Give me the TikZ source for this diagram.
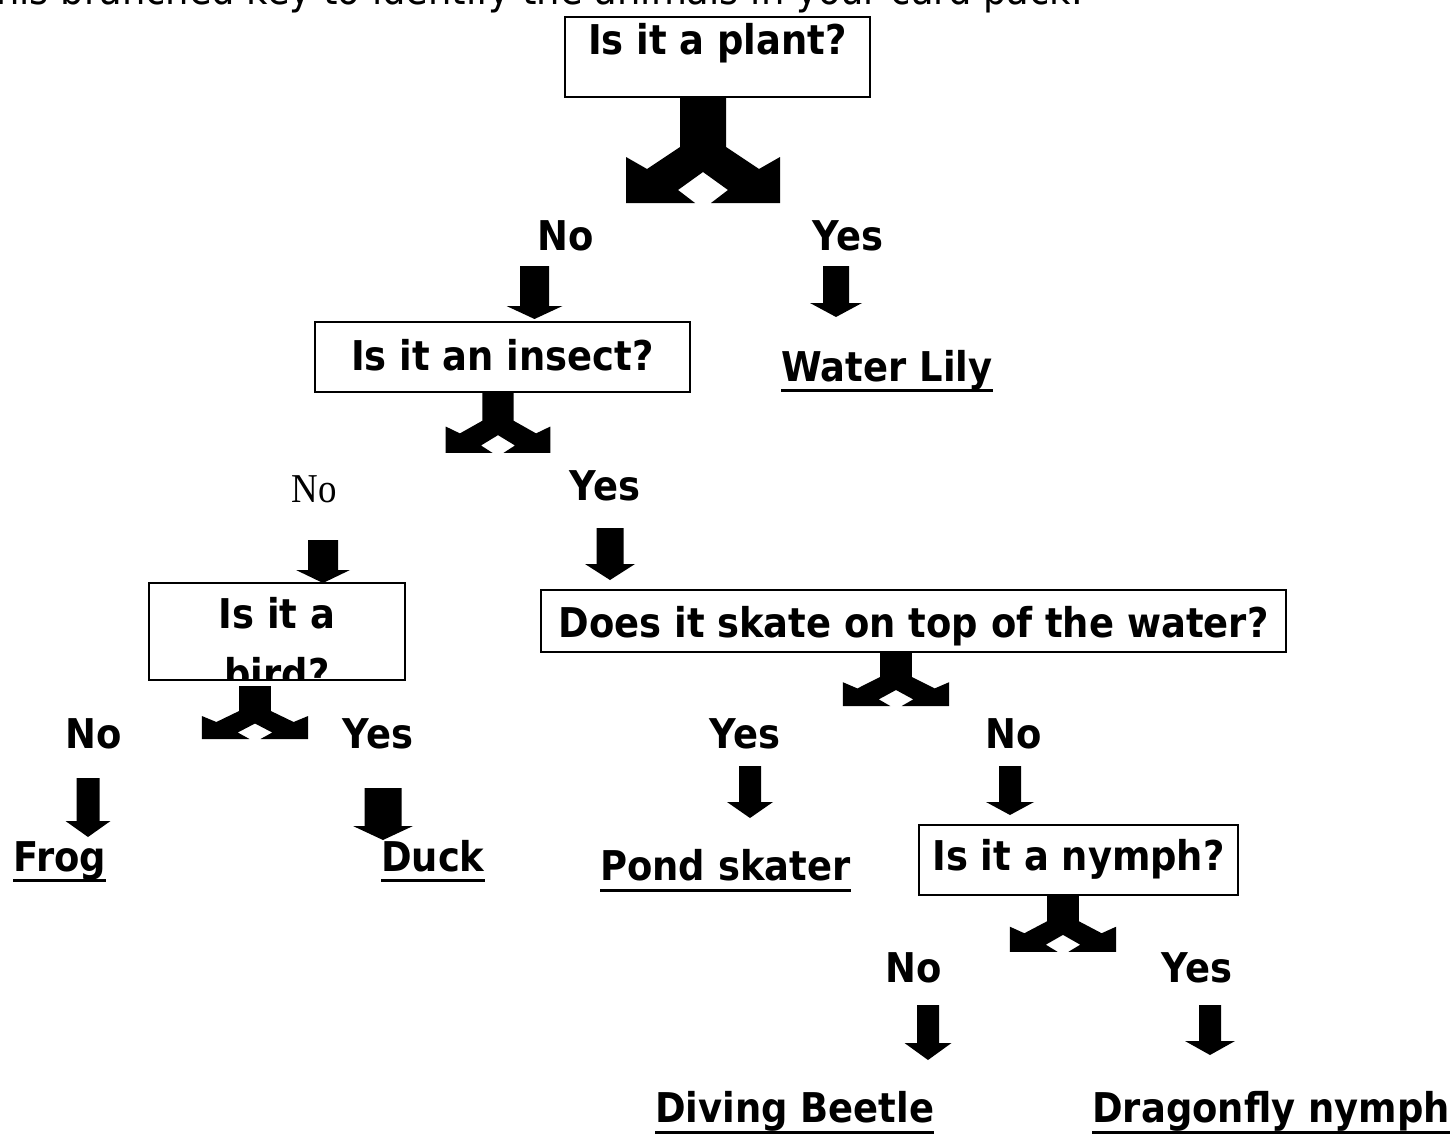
\documentclass[tikz,border=0pt]{standalone}
\usepackage{fontspec}
\newfontfamily\kfont[FakeStretch=0.9]{DejaVu Sans}
\newfontfamily\sfont[FakeStretch=0.9]{Liberation Serif}
\usetikzlibrary{calc,fit}
\begin{document}
\begin{tikzpicture}[x=1pt,y=-1pt,
  lbl/.style={font=\kfont\bfseries\fontsize{41}{46}\selectfont, inner sep=0pt, anchor=base},
  qbox/.style={lbl, draw, line width=1.6pt, fill=white, inner xsep=0pt, inner ysep=0pt},
  uline/.style={line width=3pt},
  pics/sarrow/.style n args={4}{code={
    \fill (-#1/2,0) -- (#1/2,0) -- (#1/2,#3) -- (#2/2,#3) -- (0,#4) -- (-#2/2,#3) -- (-#1/2,#3) -- cycle;}},
  pics/darrow/.style={code={
    \fill (-23,0) -- (-23,50) -- (-56,72) -- (-77,60) -- (-77,106) -- (-8,106) -- (-25,93) -- (0,75)
      -- (25,93) -- (8,106) -- (77,106) -- (77,60) -- (56,72) -- (23,50) -- (23,0) -- cycle;}}
]
\useasboundingbox[fill=white] (0,0) rectangle (1456,1137);

% clipped heading
\node[font=\kfont\fontsize{41}{46}\selectfont, inner sep=0pt, anchor=base east] (title) at (1083,5)
  {Use this branched key to identify the animals in your card pack.};

% question 1
\node[qbox, text height=38pt, text depth=42pt, minimum width=305pt] (q1) at (717.5,55) {Is it a plant?};
\pic at (703,97) {darrow};
\node[lbl] (no1) at (566,250) {No};
\node[lbl] (yes1) at (848,250) {Yes};
\pic at (534.5,266) {sarrow={29}{56}{40}{53}};
\pic at (836,266) {sarrow={26}{52}{37}{51}};
\node[lbl] (lily) at (887,381) {Water Lily};
\draw[uline] ($(lily.base west)+(0,9)$) -- ($(lily.base east)+(0,9)$);

% question 2
\node[qbox, text height=48pt, text depth=22pt, minimum width=375pt] (q2) at (502.5,370) {Is it an insect?};
\pic[xscale=0.68, yscale=0.575] at (498,392) {darrow};
\node[font=\sfont\fontsize{41}{46}\selectfont, inner sep=0pt, anchor=base] (no2) at (314,502) {No};
\node[lbl] (yes2) at (605,500) {Yes};
\pic at (323,540) {sarrow={30}{54}{30}{43}};
\pic at (610,528) {sarrow={27}{50}{36}{52}};

% question 3 (bird)
\coordinate (q3nw) at (149,583);
\coordinate (q3se) at (405,680);
\begin{scope}
  \clip (q3nw) rectangle (q3se);
  \node[lbl] (q3a) at (277,628) {Is it a};
  \node[lbl] (q3b) at (277,688) {bird?};
\end{scope}
\node[draw, line width=1.6pt, inner sep=0pt, fit=(q3nw)(q3se)] (q3) {};
\pic[xscale=0.69, yscale=0.5] at (255,686) {darrow};
\node[lbl] (no3) at (94,748) {No};
\node[lbl] (yes3) at (378,748) {Yes};
\pic at (88,778) {sarrow={23}{45}{43}{59}};
\pic at (383,788) {sarrow={37}{60}{38}{52}};
\node[lbl, anchor=base west] (frog) at (13,871) {Frog};
\draw[uline] ($(frog.base west)+(0,9)$) -- ($(frog.base east)+(0,9)$);
\node[lbl, anchor=base west] (duck) at (381,871) {Duck};
\draw[uline] ($(duck.base west)+(0,9)$) -- ($(duck.base east)+(0,9)$);

% question 4 (skate)
\node[qbox, text height=47pt, text depth=15pt, minimum width=745pt] (q4) at (913.5,637) {Does it skate on top of the water?};
\pic[xscale=0.69, yscale=0.52] at (896,651) {darrow};
\node[lbl] (yes4) at (745,748) {Yes};
\node[lbl] (no4) at (1014,748) {No};
\pic at (750,766) {sarrow={22}{46}{36}{52}};
\pic at (1010,766) {sarrow={22}{48}{36}{49}};
\node[lbl, anchor=base west] (pond) at (600,880) {Pond skater};
\draw[uline] ($(pond.base west)+(0,10)$) -- ($(pond.base east)+(0,10)$);

% question 5 (nymph)
\node[qbox, text height=45pt, text depth=25pt, minimum width=319pt] (q5) at (1078.5,870) {Is it a nymph?};
\pic[xscale=0.69, yscale=0.545] at (1063,894) {darrow};
\node[lbl] (no5) at (914,982) {No};
\node[lbl] (yes5) at (1197,982) {Yes};
\pic at (928,1005) {sarrow={22}{47}{38}{55}};
\pic at (1210,1005) {sarrow={22}{50}{36}{50}};
\node[lbl, anchor=base west] (beetle) at (655,1122) {Diving Beetle\ };
\draw[uline] ($(beetle.base west)+(0,10)$) -- ($(beetle.base east)+(0,10)$);
\node[lbl, anchor=base east] (dragon) at (1450,1122) {Dragonfly nymph};
\draw[uline] ($(dragon.base west)+(0,10)$) -- ($(dragon.base east)+(0,10)$);
\end{tikzpicture}
\end{document}
